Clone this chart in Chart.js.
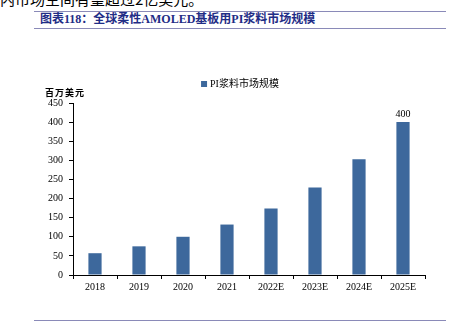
<!DOCTYPE html>
<html>
<head>
<meta charset="utf-8">
<script src="https://cdn.jsdelivr.net/npm/chart.js@4/dist/chart.umd.min.js"></script>
<style>
  body { margin: 0; background: #fff; }
  #wrap { position: relative; width: 458px; height: 322px; overflow: hidden; }
  #chart { position: absolute; left: 0; top: 0; }
  .cut { position: absolute; left: 0; top: -9px; font: 15px/15px "Noto Sans CJK SC"; color: #000; white-space: nowrap; }
  .rule { position: absolute; left: 34px; width: 412px; height: 1px; background: #8a8ab8; }
  .title { position: absolute; left: 40px; top: 12px; font: bold 12px/14px "Liberation Serif", "Noto Sans CJK SC"; color: #1f2d86; white-space: nowrap; }
  .unit { position: absolute; left: 45px; top: 87px; font: bold 9px/12px "Noto Sans CJK SC"; color: #000; letter-spacing: 1px; }
</style>
</head>
<body>
<div id="wrap">
  <div class="cut">内市场空间有望超过2亿美元。</div>
  <div class="rule" style="top:11px"></div>
  <div class="title">图表118：全球柔性AMOLED基板用PI浆料市场规模</div>
  <div class="rule" style="top:28px"></div>
  <canvas id="chart" width="458" height="322"></canvas>
  <div class="unit">百万美元</div>
  <div class="rule" style="top:320px"></div>
</div>
<script>
const aYears = ["2018", "2019", "2020", "2021", "2022E", "2023E", "2024E", "2025E"];
const aMarket = [57, 75, 100, 132, 174, 229, 303, 400];
const sSeriesName = "PI浆料市场规模";
const sBarColor = "#3d689c";

// value label on the last bar only
const oLastLabel = {
  id: "lastLabel",
  afterDatasetsDraw(chart) {
    const oCtx = chart.ctx;
    const oMeta = chart.getDatasetMeta(0);
    const i = aMarket.length - 1;
    const oBar = oMeta.data[i];
    oCtx.save();
    oCtx.font = "10px 'Liberation Serif'";
    oCtx.fillStyle = "#000";
    oCtx.textAlign = "center";
    oCtx.textBaseline = "bottom";
    oCtx.fillText(String(aMarket[i]), oBar.x, oBar.y - 3);
    oCtx.restore();
  }
};

// small legend above the plot
const oTopLegend = {
  id: "topLegend",
  afterDraw(chart) {
    const oCtx = chart.ctx;
    const oDs = chart.data.datasets[0];
    oCtx.save();
    oCtx.font = "10px 'Liberation Serif', 'Noto Sans CJK SC'";
    const nText = oCtx.measureText(oDs.label).width;
    const nX = 240 - (nText + 9) / 2;
    const nY = 84;
    oCtx.fillStyle = oDs.backgroundColor;
    oCtx.fillRect(nX, nY - 3, 6, 6);
    oCtx.fillStyle = "#000";
    oCtx.textBaseline = "middle";
    oCtx.fillText(oDs.label, nX + 9, nY);
    oCtx.restore();
  }
};

const oContext = document.getElementById("chart").getContext("2d");
new Chart(oContext, {
  type: "bar",
  data: {
    labels: aYears,
    datasets: [
      {
        label: sSeriesName,
        data: aMarket,
        backgroundColor: sBarColor,
        borderWidth: 0,
        categoryPercentage: 1,
        barPercentage: 0.3
      }
    ]
  },
  plugins: [oLastLabel, oTopLegend],
  options: {
    responsive: false,
    animation: false,
    layout: { padding: { top: 103, right: 33, left: 0, bottom: 0 } },
    scales: {
      x: {
        type: "category",
        border: { color: "#000", width: 1 },
        grid: { display: true, drawOnChartArea: false, color: "#000", tickLength: 4, offset: true },
        ticks: { color: "#000", font: { family: "Liberation Serif", size: 10 }, padding: 2 },
        afterFit(scale) { scale.height = 47; }
      },
      y: {
        min: 0,
        max: 450,
        beginAtZero: true,
        border: { color: "#000", width: 1 },
        grid: { display: true, drawOnChartArea: false, color: "#000", tickLength: 4 },
        ticks: { stepSize: 50, color: "#000", font: { family: "Liberation Serif", size: 10 }, padding: 6 },
        afterFit(scale) { scale.width = 73; }
      }
    },
    plugins: {
      legend: { display: false },
      tooltip: { enabled: false }
    }
  }
});
</script>
</body>
</html>
